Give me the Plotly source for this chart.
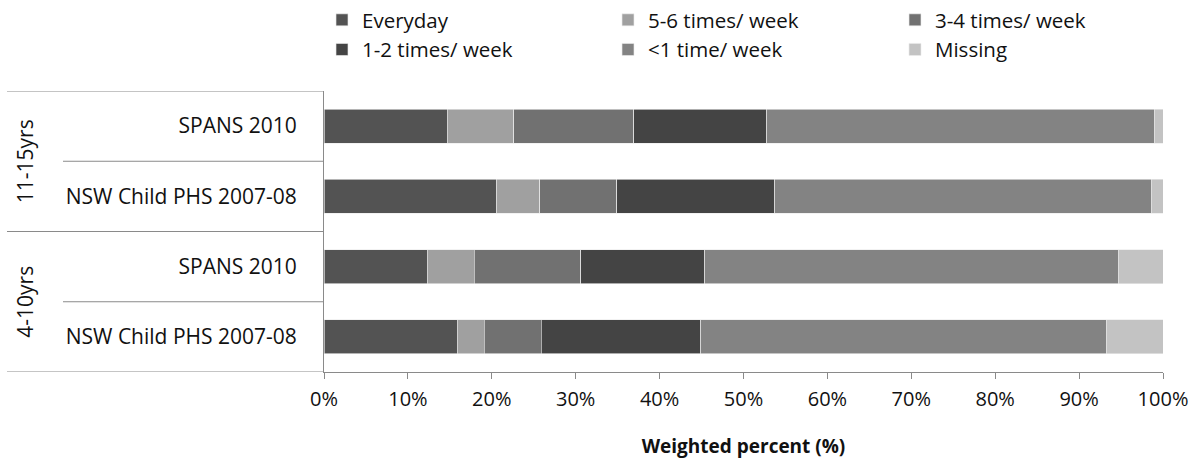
import plotly.graph_objects as go

# Rows, top to bottom
row_labels = ["SPANS 2010", "NSW Child PHS 2007-08", "SPANS 2010", "NSW Child PHS 2007-08"]
age_groups = ["11-15yrs", "4-10yrs"]

# Weighted percent for each frequency, per row
everyday = [14.7, 20.6, 12.3, 15.9]
five_six = [7.9, 5.1, 5.6, 3.2]
three_four = [14.3, 9.2, 12.7, 6.8]
one_two = [15.9, 18.8, 14.8, 19.0]
less_one = [46.2, 44.9, 49.3, 48.4]
missing = [1.0, 1.4, 5.3, 6.7]

x_ticks = [0, 10, 20, 30, 40, 50, 60, 70, 80, 90, 100]

series = [
    ("Everyday", everyday, "#535353", "legend"),
    ("5-6 times/ week", five_six, "#a0a0a0", "legend2"),
    ("3-4 times/ week", three_four, "#717171", "legend3"),
    ("1-2 times/ week", one_two, "#444444", "legend"),
    ("<1 time/ week", less_one, "#838383", "legend2"),
    ("Missing", missing, "#c3c3c3", "legend3"),
]

W, H = 1199, 468
ML, MR, MT, MB = 324, 36, 91, 96
PW = W - ML - MR
PH = H - MT - MB

FONT = "Open Sans"
TEXT = "#111111"
AXIS_GREY = "#8a8a8a"

fig = go.Figure()
positions = list(range(len(row_labels)))
for name, vals, color, leg in series:
    fig.add_trace(go.Bar(
        y=positions, x=vals, name=name, orientation="h",
        marker=dict(color=color, line=dict(color="rgba(235,235,235,0.8)", width=0.8)),
        legend=leg,
    ))


def px_x(px):
    return (px - ML) / PW


def px_y(px):
    return 1 - (px - MT) / PH


legend_common = dict(
    orientation="v", traceorder="normal", yanchor="top", xanchor="left",
    y=px_y(0), font=dict(family=FONT, size=20.5, color=TEXT),
    bgcolor="rgba(0,0,0,0)", borderwidth=0, tracegroupgap=0,
)

shapes = []
# Group dividers across the label area
for yv in (-0.5, 1.5, 3.5):
    shapes.append(dict(type="line", xref="paper", yref="y", x0=px_x(7), x1=0, y0=yv, y1=yv,
                       line=dict(color=AXIS_GREY, width=1)))
# Row dividers inside each group
for yv in (0.5, 2.5):
    shapes.append(dict(type="line", xref="paper", yref="y", x0=px_x(63), x1=0, y0=yv, y1=yv,
                       line=dict(color=AXIS_GREY, width=1)))

annotations = []
for i, g in enumerate(age_groups):
    annotations.append(dict(
        text=g, xref="paper", yref="y", x=px_x(25), y=2 * i + 0.5,
        textangle=-90, showarrow=False, xanchor="center", yanchor="middle",
        font=dict(family=FONT, size=21, color=TEXT),
    ))

fig.update_layout(
    width=W, height=H,
    margin=dict(l=ML, r=MR, t=MT, b=MB, autoexpand=False),
    paper_bgcolor="white", plot_bgcolor="white",
    barmode="stack", bargap=0.515,
    showlegend=True,
    legend=dict(x=px_x(322), **legend_common),
    legend2=dict(x=px_x(608), **legend_common),
    legend3=dict(x=px_x(895), **legend_common),
    xaxis=dict(
        range=[0, 100], tickvals=x_ticks, ticktext=[f"{v}%" for v in x_ticks],
        showgrid=False, zeroline=False, showline=True, linecolor=AXIS_GREY, linewidth=1,
        ticks="outside", ticklen=6, tickcolor=AXIS_GREY, tickwidth=1,
        ticklabelstandoff=3,
        tickfont=dict(family=FONT, size=20, color=TEXT),
        title=dict(text="<b>Weighted percent (%)</b>", standoff=28,
                   font=dict(family=FONT, size=19, color=TEXT)),
        fixedrange=True,
    ),
    yaxis=dict(
        range=[3.5, -0.5], tickvals=positions, ticktext=row_labels,
        showgrid=False, zeroline=False, showline=True, linecolor=AXIS_GREY, linewidth=1,
        ticks="", ticklabelstandoff=22,
        tickfont=dict(family=FONT, size=21, color=TEXT),
        fixedrange=True,
    ),
    shapes=shapes,
    annotations=annotations,
)

fig.write_html("out.html")
